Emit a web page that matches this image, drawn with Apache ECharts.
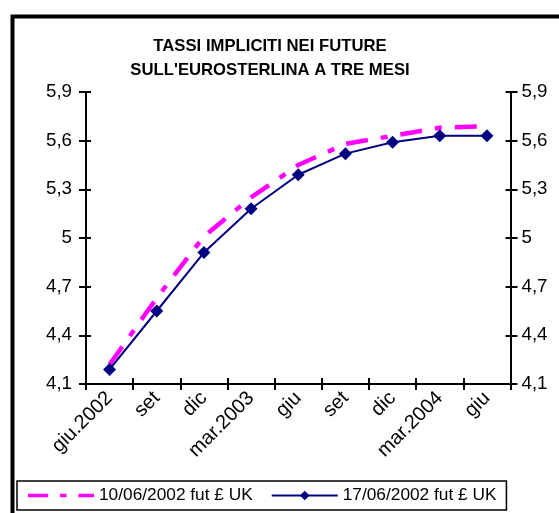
<!DOCTYPE html>
<html>
<head>
<meta charset="utf-8">
<script src="https://cdn.jsdelivr.net/npm/echarts@6/dist/echarts.min.js"></script>
<style>html,body{margin:0;padding:0;background:#fff;}#c{width:559px;height:513px;}</style>
</head>
<body>
<div id="c"></div>
<script>
var categories = ['giu.2002', 'set', 'dic', 'mar.2003', 'giu', 'set', 'dic', 'mar.2004', 'giu'];
var series10 = [4.22, 4.63, 5.01, 5.25, 5.45, 5.58, 5.63, 5.68, 5.69];
var series17 = [4.19, 4.55, 4.91, 5.18, 5.39, 5.52, 5.59, 5.63, 5.63];
var seriesNames = ['10/06/2002 fut £ UK', '17/06/2002 fut £ UK'];
var titleLines = ['TASSI IMPLICITI NEI FUTURE', "SULL'EUROSTERLINA A TRE MESI"];
var yMin = 4.1, yMax = 5.9, yStep = 0.3;

var FONT = '"Liberation Sans", Arial, sans-serif';
function fmt(v) { return String(Math.round(v * 10) / 10).replace('.', ','); }

var chart = echarts.init(document.getElementById('c'), null, { renderer: 'canvas' });

function yAx(pos, inside, labels) {
  return {
    type: 'value', position: pos, min: yMin, max: yMax, interval: yStep,
    axisLine: { show: true, lineStyle: { color: '#000', width: 2 } },
    axisTick: { show: true, inside: inside, length: inside ? 5 : 7, lineStyle: { color: '#000', width: 2 } },
    axisLabel: { show: labels, margin: pos === 'left' ? 14 : 11, color: '#000', fontSize: 18.7, fontFamily: FONT, formatter: fmt },
    splitLine: { show: false }
  };
}
function xAx(inside, labels) {
  return {
    type: 'category', data: categories, boundaryGap: true, position: 'bottom',
    axisLine: { show: true, lineStyle: { color: '#000', width: 2 } },
    axisTick: { show: true, inside: inside, length: 6, lineStyle: { color: '#000', width: 2 } },
    axisLabel: { show: labels, rotate: 45, margin: 11, interval: 0, color: '#000', fontSize: 20, fontFamily: FONT },
    splitLine: { show: false }
  };
}

chart.setOption({
  backgroundColor: '#fff',
  animation: false,
  title: {
    text: titleLines.join('\n'),
    left: 265, top: 30, textAlign: 'center',
    textStyle: { fontSize: 16.7, fontWeight: 'bold', fontFamily: FONT, color: '#000', lineHeight: 23.5 }
  },
  grid: { left: 86, right: 48.5, top: 92, bottom: 129, containLabel: false },
  xAxis: [xAx(false, true), xAx(true, false)],
  yAxis: [yAx('left', false, true), yAx('right', false, true), yAx('left', true, false), yAx('right', true, false)],
  legend: {
    left: 17, top: 481,
    padding: [6, 10, 6, 11],
    itemWidth: 66, itemHeight: 12, itemGap: 18,
    borderColor: '#000', borderWidth: 1.5,
    textStyle: { fontSize: 17.3, fontFamily: FONT, color: '#000' },
    data: [
      { name: seriesNames[0], icon: 'path://M0,0H22V4H0Z M35,0H42V4H35Z M55,0H72V4H55Z', itemStyle: { color: '#ff00ff' } },
      { name: seriesNames[1] }
    ]
  },
  graphic: [{
    type: 'rect', left: 10, top: 14, silent: true,
    shape: { x: 0, y: 0, width: 600, height: 600 },
    style: { fill: 'none', stroke: '#000', lineWidth: 4 }
  }],
  series: [
    {
      name: seriesNames[0], type: 'line', data: series10, xAxisIndex: 0, yAxisIndex: 0,
      symbol: 'none', smooth: false,
      lineStyle: { color: '#ff00ff', width: 4.5, type: [22, 13, 7, 13] },
      itemStyle: { color: '#ff00ff' }
    },
    {
      name: seriesNames[1], type: 'line', data: series17, xAxisIndex: 0, yAxisIndex: 0,
      symbol: 'diamond', symbolSize: 13, showAllSymbol: true,
      lineStyle: { color: '#000080', width: 2 },
      itemStyle: { color: '#000080' }
    }
  ]
});
</script>
</body>
</html>
